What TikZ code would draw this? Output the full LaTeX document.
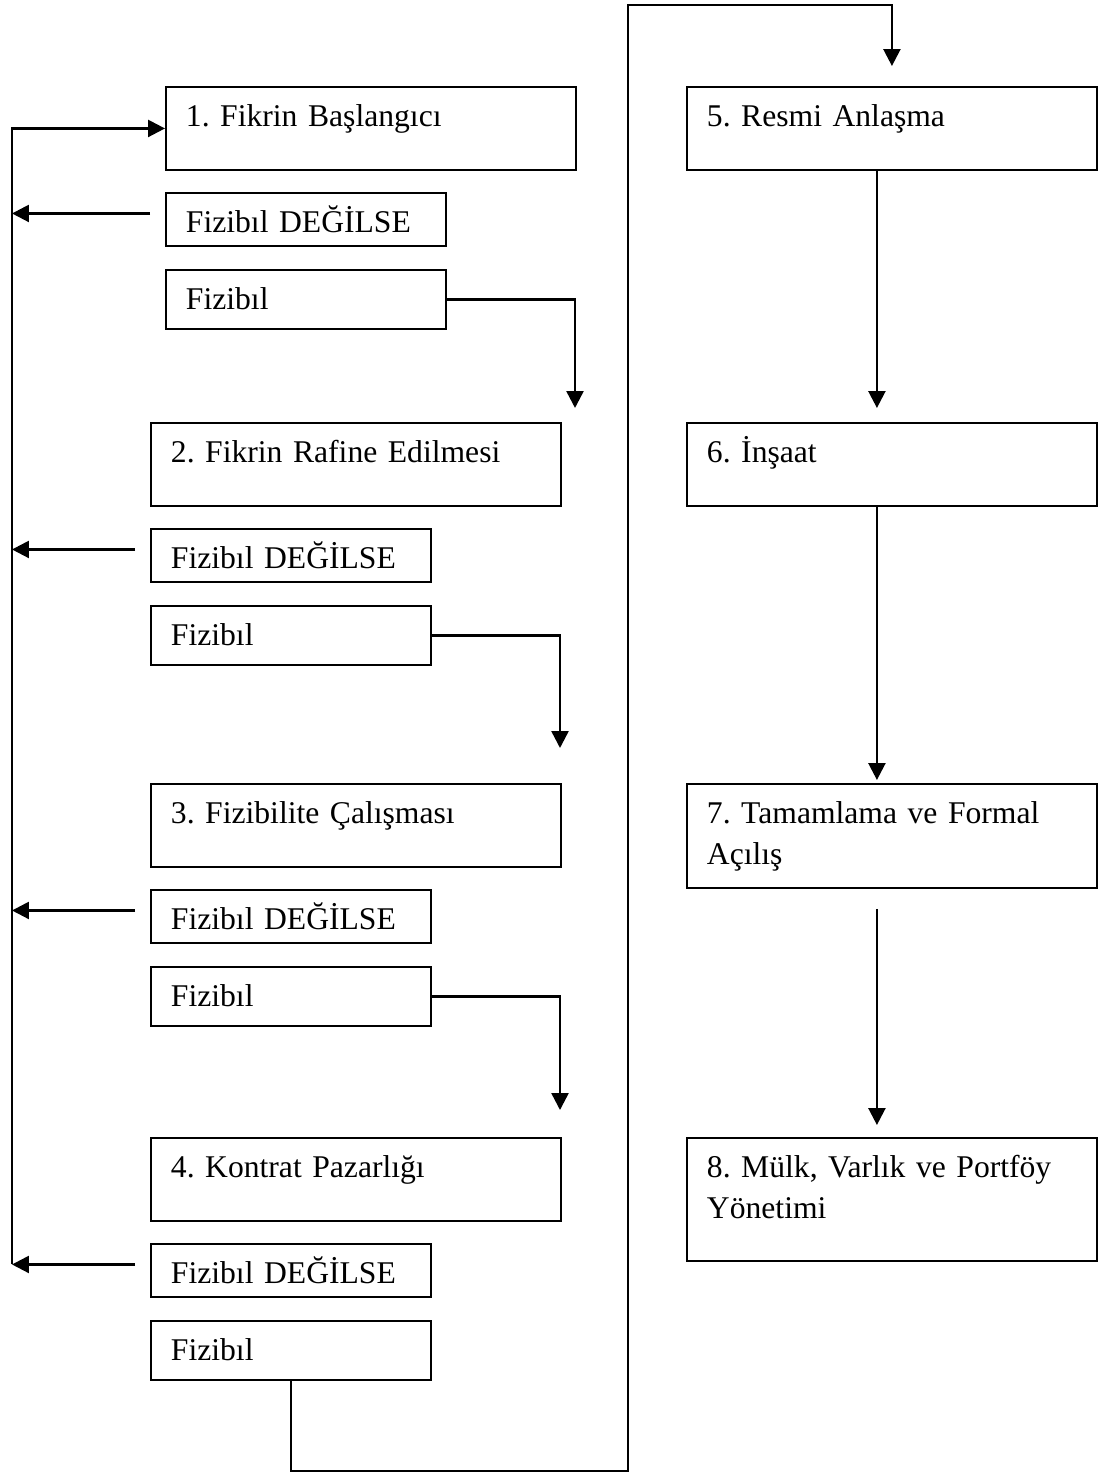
\documentclass[tikz,border=0pt]{standalone}
\usepackage{fontspec}
\setmainfont{Liberation Serif}
\usepackage{tikz}
\usetikzlibrary{arrows.meta}

\begin{document}
\begin{tikzpicture}[x=0.02cm,y=-0.02cm,
  font=\fontsize{18}{23.3}\selectfont\frenchspacing,
  stage/.style={draw, line width=1.1pt, anchor=north west, align=left,
    inner xsep=0.4cm, inner ysep=0pt, text height=0.8cm, text depth=0.86cm,
    text width=7.4cm},
  answer/.style={stage, text width=4.8cm, text depth=0.26cm},
  goon/.style={stage, text width=4.8cm, text depth=0.38cm},
  flow/.style={line width=1.4pt, -{Triangle[width=0.34cm,length=0.34cm]}}]
\useasboundingbox (0,0) rectangle (1099,1473);
% left column
\node[stage] (idea) at (165,86) {1. Fikrin Başlangıcı};
\node[answer] (nf1) at (165,192) {Fizibıl DEĞİLSE};
\node[goon] (f1) at (165,269) {Fizibıl};
\node[stage] (refine) at (150,422) {2. Fikrin Rafine Edilmesi};
\node[answer] (nf2) at (150,528) {Fizibıl DEĞİLSE};
\node[goon] (f2) at (150,605) {Fizibıl};
\node[stage] (study) at (150,783) {3. Fizibilite Çalışması};
\node[answer] (nf3) at (150,889) {Fizibıl DEĞİLSE};
\node[goon] (f3) at (150,966) {Fizibıl};
\node[stage] (contract) at (150,1137) {4. Kontrat Pazarlığı};
\node[answer] (nf4) at (150,1243) {Fizibıl DEĞİLSE};
\node[goon] (f4) at (150,1320) {Fizibıl};
% right column
\node[stage] (agreement) at (686,86) {5. Resmi Anlaşma};
\node[stage] (building) at (686,422) {6. İnşaat};
\node[stage, text depth=1.28cm] (opening) at (686,783) {7. Tamamlama ve Formal\\Açılış};
\node[stage, text depth=1.66cm] (management) at (686,1137) {8. Mülk, Varlık ve Portföy\\Yönetimi};

% feasible -> next stage
\coordinate (tip1) at (575,408);
\coordinate (tip2) at (560,748);
\coordinate (tip3) at (560,1110);
\draw[flow] (f1.east) -| (tip1);
\draw[flow] (f2.east) -| (tip2);
\draw[flow] (f3.east) -| (tip3);

% not feasible -> back to the start
\coordinate (bus) at (12,0);
\foreach \k in {1,...,4} {
  \coordinate (s\k) at ([xshift=-0.3cm,yshift=0.12cm]nf\k.west);
  \draw[flow] (s\k) -- (s\k -| bus);
}
\draw[flow] (s4 -| bus) |- (idea.west);

% over to the right column
\coordinate (lowturn) at (628,1471);
\coordinate (topturn) at (628,5);
\draw[flow] (f4.south) |- (lowturn) -- (topturn) -| ([yshift=0.4cm]agreement.north);
\draw[flow] ([xshift=-0.3cm]agreement.south) -- ([xshift=-0.3cm,yshift=0.28cm]building.north);
\draw[flow] ([xshift=-0.3cm]building.south) -- ([xshift=-0.3cm,yshift=0.06cm]opening.north);
\draw[flow] ([xshift=-0.3cm,yshift=-0.4cm]opening.south) -- ([xshift=-0.3cm,yshift=0.24cm]management.north);
\end{tikzpicture}
\end{document}
